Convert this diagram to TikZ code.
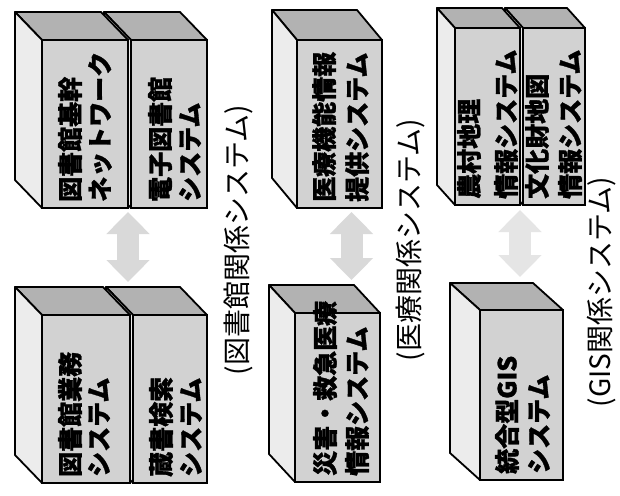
\documentclass[tikz,border=0pt]{standalone}
\usepackage{fontspec}
\newfontfamily\jp[BoldFeatures={FakeBold=1.2}]{Noto Sans CJK JP}
\usetikzlibrary{arrows.meta}

% one block: name, front corner, width, height, depth, text columns, two lines
\newcommand{\sysbox}[9]{%
  \node[front face, minimum width=#3pt, minimum height=#4pt, anchor=north west] (#1) at #2 {};
  \filldraw[top face] (#1.north west) -- ++(#5) -- ++(#3,0) -- (#1.north east) -- cycle;
  \filldraw[side face] (#1.north west) -- ++(#5) -- ++(0,#4) -- (#1.south west) -- cycle;
  \node[box text] (#1-a) at ([xshift=#6pt, yshift=6pt]#1.south west) {#8};
  \node[box text] (#1-b) at ([xshift=#7pt, yshift=6pt]#1.south west) {#9};
}

\begin{document}
\begin{tikzpicture}[x=1pt, y=-1pt,
    front face/.style={draw, line width=2.2pt, fill=gray!35, inner sep=0pt, outer sep=0pt},
    top face/.style={draw, line width=1.8pt, fill=gray!60, line join=round},
    side face/.style={draw, line width=1.8pt, fill=gray!15, line join=round},
    box text/.style={rotate=90, anchor=west, inner sep=0pt, font=\jp\bfseries\fontsize{25}{25}\selectfont},
    group label/.style={rotate=90, inner sep=0pt, font=\jp\fontsize{28}{28}\selectfont},
    fat arrow/.style={draw=gray!30, line width=22pt, arrows={Triangle[width=42pt,length=22pt]-Triangle[width=42pt,length=22pt]}}]
  \path[use as bounding box, fill=white] (0,0) rectangle (620,495);

  % library systems
  \sysbox{elib}{(131,40)}{76}{168}{-27,-28}{29}{59}{電子図書館}{システム}
  \sysbox{libnet}{(42,40)}{86}{168}{-27,-28}{28}{58}{図書館基幹}{ネットワーク}
  \sysbox{search}{(133,315)}{74}{168}{-27,-28}{28}{58}{蔵書検索}{システム}
  \sysbox{libwork}{(42,315)}{88}{168}{-27,-28}{28}{57}{図書館業務}{システム}
  \draw[fat arrow, shorten <=4pt, shorten >=33pt] (libnet.south east) -- (libnet.south east |- libwork.north);
  \node[group label] (liblabel) at (238,240) {(図書館関係システム)};

  % medical systems
  \sysbox{medinfo}{(297,40)}{85}{168}{-25,-30}{27}{60}{医療機能情報}{提供システム}
  \sysbox{emerg}{(295,313)}{85}{169}{-26,-28}{30}{62}{災害・救急医療}{情報システム}
  \coordinate (medtop) at ([xshift=12pt]medinfo.south);
  \draw[fat arrow, shorten <=4pt, shorten >=33pt] (medtop) -- (medtop |- emerg.north);
  \node[group label] (medlabel) at (410,240) {(医療関係システム)};

  % GIS systems
  \sysbox{bunka}{(523,28)}{62}{177}{-18,-20}{14}{47}{文化財地図}{情報システム}
  \sysbox{noson}{(455,28)}{65}{177}{-18,-20}{14}{51}{農村地理}{情報システム}
  \sysbox{gis}{(480,310)}{83}{170}{-30,-27}{27}{59}{統合型GIS}{システム}
  \draw[fat arrow, draw=gray!20, shorten <=5pt, shorten >=33pt] (noson.south east) -- (noson.south east |- gis.north);
  \node[group label] (gislabel) at (602,292) {(GIS関係システム)};
\end{tikzpicture}
\end{document}
